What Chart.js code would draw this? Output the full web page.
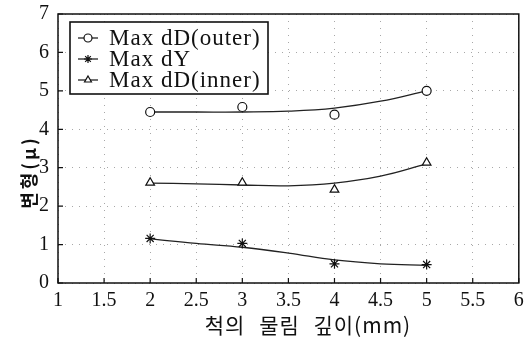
<!DOCTYPE html>
<html>
<head>
<meta charset="utf-8">
<script src="https://cdn.jsdelivr.net/npm/chart.js@4"></script>
<style>
  html, body { margin: 0; padding: 0; background: #fff; }
  #wrap { width: 525px; height: 340px; }
</style>
</head>
<body>
<div id="wrap"><canvas id="deformChart" width="525" height="340"></canvas></div>
<script>
// measured points
const depths = [2, 3, 4, 5];
const outerMax = [4.45, 4.58, 4.38, 5.0];
const dYMax = [1.16, 1.03, 0.5, 0.48];
const innerMax = [2.61, 2.61, 2.43, 3.13];

// fitted trend curves
const fitDepths = [2, 2.5, 3, 3.5, 4, 4.5, 5];
const outerFit = [4.45, 4.45, 4.45, 4.47, 4.55, 4.73, 5.0];
const dYFit = [1.15, 1.03, 0.93, 0.78, 0.6, 0.5, 0.46];
const innerFit = [2.6, 2.58, 2.55, 2.53, 2.6, 2.78, 3.1];

const legendLabels = ['Max dD(outer)', 'Max dY', 'Max dD(inner)'];
const xTitle = '척의 물림 깊이(mm)';
const yTitle = '변형(μ)';

const serif = '"Liberation Serif", "DejaVu Serif", serif';
const korean = '"Noto Sans CJK KR", "Noto Sans", sans-serif';

function pts(xs, ys) {
    return xs.map((x, i) => ({ x: x, y: ys[i] }));
}

function markerSet(label, data, style, radius) {
    return {
        label: label,
        data: pts(depths, data),
        showLine: false,
        pointStyle: style,
        pointRadius: radius,
        pointBorderWidth: 1.2,
        pointBorderColor: '#111',
        pointBackgroundColor: '#fff'
    };
}

function fitSet(data) {
    return {
        data: pts(fitDepths, data),
        showLine: true,
        borderColor: '#222',
        borderWidth: 1.3,
        tension: 0.4,
        pointRadius: 0
    };
}

const framePlugin = {
    id: 'frame',
    afterDraw(chart) {
        const ctx = chart.ctx;
        const a = chart.chartArea;
        const xs = chart.scales.x;
        const ys = chart.scales.y;
        ctx.save();
        // plot frame
        ctx.strokeStyle = '#111';
        ctx.lineWidth = 1.5;
        ctx.strokeRect(a.left, a.top, a.right - a.left, a.bottom - a.top);
        // inward ticks
        ctx.lineWidth = 1.2;
        ctx.beginPath();
        xs.ticks.forEach(t => {
            const px = xs.getPixelForValue(t.value);
            ctx.moveTo(px, a.bottom);
            ctx.lineTo(px, a.bottom - 5);
        });
        ys.ticks.forEach(t => {
            const py = ys.getPixelForValue(t.value);
            ctx.moveTo(a.left, py);
            ctx.lineTo(a.left + 5, py);
        });
        ctx.stroke();

        // legend box
        const bx = 70, by = 22, bw = 198, bh = 72;
        ctx.fillStyle = '#fff';
        ctx.fillRect(bx, by, bw, bh);
        ctx.lineWidth = 1.6;
        ctx.strokeRect(bx, by, bw, bh);
        const styles = ['circle', 'star', 'triangle'];
        const rows = [38, 59, 80];
        ctx.font = '23px ' + serif;
        ctx.letterSpacing = '1px';
        ctx.textBaseline = 'middle';
        ctx.textAlign = 'left';
        rows.forEach((ry, i) => {
            ctx.strokeStyle = '#111';
            ctx.lineWidth = 1.2;
            ctx.beginPath();
            ctx.moveTo(78, ry);
            ctx.lineTo(98, ry);
            ctx.stroke();
            ctx.fillStyle = '#fff';
            Chart.helpers.drawPoint(ctx, {
                pointStyle: styles[i],
                radius: 4,
                borderWidth: 1.2
            }, 88, ry);
            ctx.fillStyle = '#111';
            ctx.fillText(legendLabels[i], 109, ry + 1);
        });

        // axis titles
        ctx.fillStyle = '#111';
        ctx.textAlign = 'center';
        ctx.font = '21px ' + korean;
        ctx.letterSpacing = '1px';
        ctx.wordSpacing = '8px';
        ctx.fillText(xTitle, 308, 325);
        ctx.wordSpacing = '0px';
        ctx.save();
        ctx.translate(29, 172);
        ctx.rotate(-Math.PI / 2);
        ctx.font = 'bold 18px ' + korean;
        ctx.letterSpacing = '3px';
        ctx.fillText(yTitle, 0, 0);
        ctx.restore();
        ctx.restore();
    }
};

const ctx = document.getElementById('deformChart').getContext('2d');
const deformChart = new Chart(ctx, {
    type: 'scatter',
    data: {
        datasets: [
            markerSet(legendLabels[0], outerMax, 'circle', 4.5),
            markerSet(legendLabels[1], dYMax, 'star', 5),
            markerSet(legendLabels[2], innerMax, 'triangle', 5),
            fitSet(outerFit),
            fitSet(dYFit),
            fitSet(innerFit)
        ]
    },
    options: {
        responsive: false,
        animation: false,
        layout: { padding: { top: 14, right: 5, left: 0, bottom: 0 } },
        plugins: {
            legend: { display: false },
            tooltip: { enabled: false }
        },
        scales: {
            x: {
                type: 'linear',
                min: 1,
                max: 6,
                afterFit: function(scale) {
                    scale.height = 57;
                    scale.paddingLeft = 0;
                    scale.paddingRight = 0;
                },
                ticks: {
                    stepSize: 0.5,
                    color: '#111',
                    padding: 6,
                    maxRotation: 0,
                    font: { family: serif, size: 20 },
                    callback: function(v) { return String(v); }
                },
                grid: { color: '#a8a8a8', drawTicks: false, lineWidth: 1 },
                border: { display: false, dash: [1, 6] }
            },
            y: {
                min: 0,
                max: 7,
                afterFit: function(scale) {
                    scale.width = 58;
                    scale.paddingTop = 0;
                    scale.paddingBottom = 0;
                },
                ticks: {
                    stepSize: 1,
                    color: '#111',
                    padding: 9,
                    font: { family: serif, size: 20 },
                    callback: function(v) { return String(v); }
                },
                grid: { color: '#a8a8a8', drawTicks: false, lineWidth: 1 },
                border: { display: false, dash: [1, 6] }
            }
        }
    },
    plugins: [framePlugin]
});
</script>
</body>
</html>
